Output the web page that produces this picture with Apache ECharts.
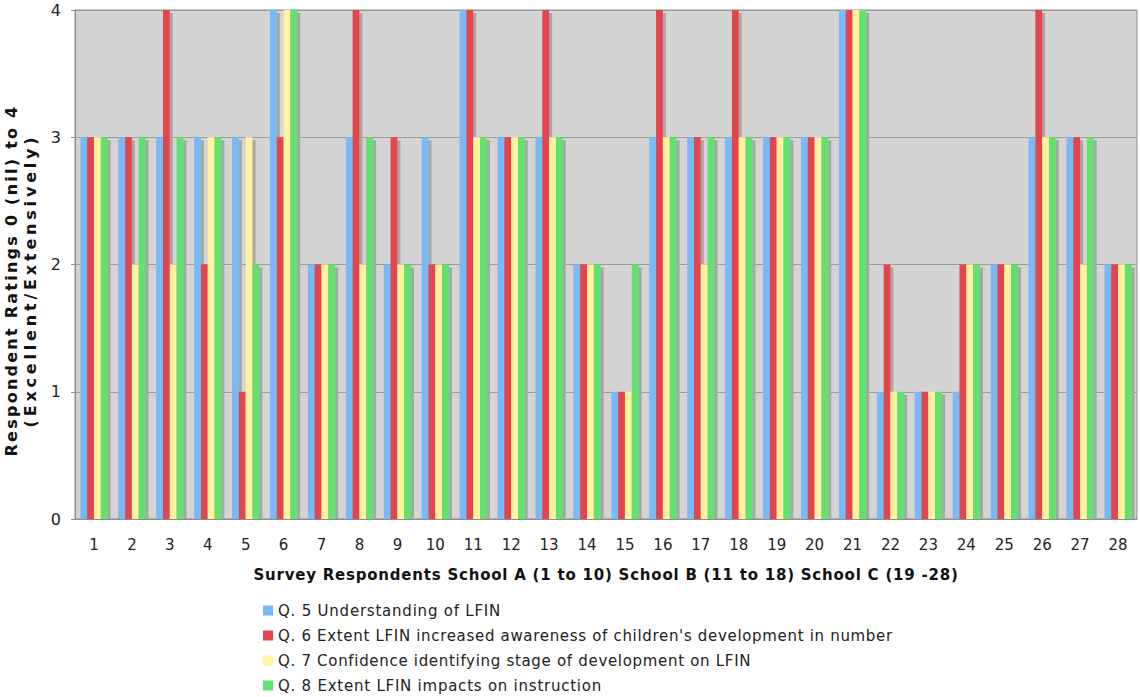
<!DOCTYPE html>
<html>
<head>
<meta charset="utf-8">
<script src="https://cdn.jsdelivr.net/npm/echarts@6/dist/echarts.min.js"></script>
<style>
html,body{margin:0;padding:0;background:#fff;}
#chart{width:1140px;height:697px;}
</style>
</head>
<body>
<div id="chart"></div>
<script>
const categories = ['1','2','3','4','5','6','7','8','9','10','11','12','13','14','15','16','17','18','19','20','21','22','23','24','25','26','27','28'];
const seriesNames = [
  'Q. 5 Understanding of LFIN',
  "Q. 6 Extent LFIN increased awareness of children's development in number",
  'Q. 7 Confidence identifying stage of development on LFIN',
  'Q. 8 Extent LFIN impacts on instruction'
];
const q5 = [3,3,3,3,3,4,2,3,2,3,4,3,3,2,1,3,3,3,3,3,4,1,1,1,2,3,3,2];
const q6 = [3,3,4,2,1,3,2,4,3,2,4,3,4,2,1,4,3,4,3,3,4,2,1,2,2,4,3,2];
const q7 = [3,2,2,3,3,4,2,2,2,2,3,3,3,2,1,3,2,3,3,3,4,1,1,2,2,3,2,2];
const q8 = [3,3,3,3,2,4,2,3,2,2,3,3,3,2,2,3,3,3,3,3,4,1,1,2,2,3,3,2];
const yTicks = [0,1,2,3,4];
const xTitle = 'Survey Respondents School A (1 to 10) School B (11 to 18) School C (19 -28)';
const yTitleLines = ['Respondent Ratings 0 (nil) to 4', '(Excellent/Extensively)'];

// styling only: rendered widths of the wide (Verdana-like) text in the original
const textWidths = {};
textWidths[xTitle] = 705;
textWidths[yTitleLines[0]] = 352;
textWidths[yTitleLines[1]] = 294;
textWidths[seriesNames[0]] = 223;
textWidths[seriesNames[1]] = 615;
textWidths[seriesNames[2]] = 473;
textWidths[seriesNames[3]] = 324;

const colors = ['#79b9f6','#e4454b','#fff3a0','#5fe270'];
const font = 'DejaVu Sans, Verdana, sans-serif';
const chart = echarts.init(document.getElementById('chart'), null, {renderer: 'svg'});
const allData = [q5,q6,q7,q8];
chart.setOption({
  animation: false,
  color: colors,
  grid: {
    left: 75, right: 3, top: 10, bottom: 178,
    outerBoundsMode: 'none', containLabel: false,
    show: true, backgroundColor: '#d4d4d4', borderColor: '#8c8c8c', borderWidth: 1
  },
  legend: {
    orient: 'vertical', left: 263, top: 603, padding: 0, height: 94,
    itemWidth: 10, itemHeight: 10, itemGap: 10,
    icon: 'rect',
    textStyle: {fontFamily: font, fontSize: 15, color: '#222'},
    data: seriesNames
  },
  xAxis: {
    type: 'category', data: categories,
    axisLine: {lineStyle: {color: '#8c8c8c'}},
    axisTick: {show: false},
    axisLabel: {fontFamily: font, fontSize: 15, color: '#222', margin: 18},
    name: xTitle,
    nameLocation: 'middle', nameGap: 48,
    nameTextStyle: {fontFamily: font, fontSize: 15, fontWeight: 'bold', color: '#111'}
  },
  yAxis: {
    type: 'value', min: 0, max: 4, interval: 1,
    axisLine: {show: true, lineStyle: {color: '#8c8c8c'}},
    axisTick: {show: true, length: 4, lineStyle: {color: '#8c8c8c'}},
    axisLabel: {fontFamily: font, fontSize: 16, color: '#222', margin: 14,
      formatter: v => yTicks.includes(v) ? String(v) : ''},
    splitLine: {lineStyle: {color: '#9a9a9a', width: 1}},
    name: yTitleLines.join('\n'),
    nameLocation: 'middle', nameGap: 22, nameRotate: 90,
    nameTextStyle: {fontFamily: font, fontSize: 16, fontWeight: 'bold', color: '#111', lineHeight: 19,
      padding: [0, 32, 0, 0]}
  },
  series: allData.map((d, i) => ({
    name: seriesNames[i],
    type: 'bar',
    data: d,
    barGap: '0%',
    barCategoryGap: '28%',
    itemStyle: {color: colors[i]}
  }))
});

function decorate() {
  const svg = document.querySelector('#chart svg');
  if (!svg) return;
  const NS = 'http://www.w3.org/2000/svg';
  if (!document.getElementById('barShadow')) {
    const defs = document.createElementNS(NS, 'defs');
    const f = document.createElementNS(NS, 'filter');
    f.setAttribute('id', 'barShadow');
    f.setAttribute('x', '0%'); f.setAttribute('y', '0%');
    f.setAttribute('width', '200%'); f.setAttribute('height', '100%');
    const ds = document.createElementNS(NS, 'feDropShadow');
    ds.setAttribute('dx', '3'); ds.setAttribute('dy', '3');
    ds.setAttribute('stdDeviation', '0');
    ds.setAttribute('flood-color', '#a6a6a6'); ds.setAttribute('flood-opacity', '1');
    f.appendChild(ds); defs.appendChild(f);
    svg.insertBefore(defs, svg.firstChild);
  }
  const svgTop = svg.getBoundingClientRect().top;
  svg.querySelectorAll('path').forEach(p => {
    const fill = (p.getAttribute('fill') || '').toLowerCase();
    if (!colors.includes(fill)) return;
    const r = p.getBoundingClientRect();
    if (r.bottom - svgTop < 530 && r.height > 0) p.setAttribute('filter', 'url(#barShadow)');
    else p.removeAttribute('filter');
  });
  svg.querySelectorAll('text').forEach(t => {
    const s = t.textContent;
    const target = textWidths[s];
    if (!target) return;
    t.setAttribute('letter-spacing', '0');
    const w = t.getComputedTextLength();
    const sp = (target - w) / s.length;
    if (sp > 0) t.setAttribute('letter-spacing', sp.toFixed(2));
  });
}
decorate();
chart.on('finished', decorate);
</script>
</body>
</html>
